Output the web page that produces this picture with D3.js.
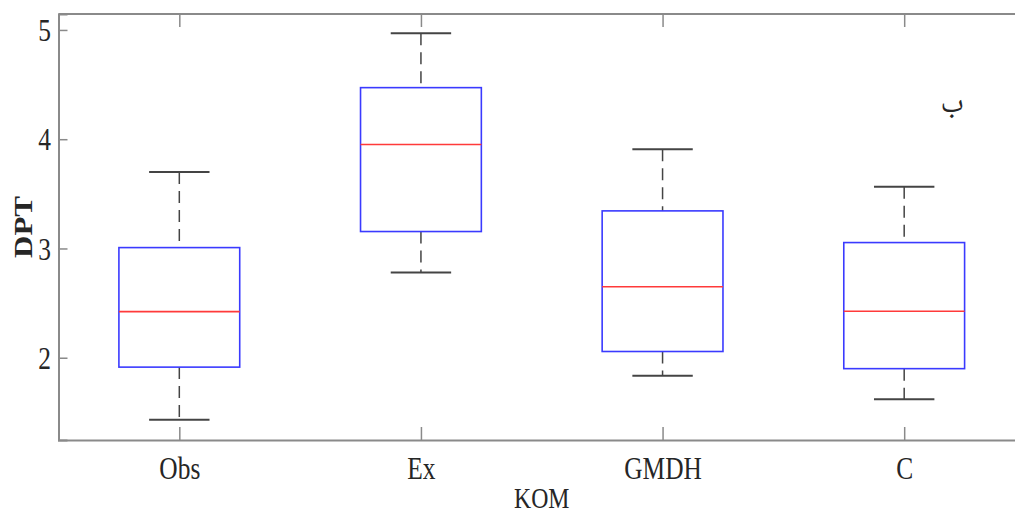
<!DOCTYPE html>
<html>
<head>
<meta charset="utf-8">
<script src="https://cdn.jsdelivr.net/npm/d3@7"></script>
<style>
  html, body { margin: 0; padding: 0; background: #fff; }
  svg { display: block; }
  text { font-family: "Liberation Serif", "Times New Roman", serif; fill: #262626; }
</style>
</head>
<body>
<svg id="chart" width="1015" height="515"></svg>
<script>
// ---- data ----
const categories = ["Obs", "Ex", "GMDH", "C"];
const whiskerLow  = [1.432, 2.780, 1.834, 1.621];
const q1          = [1.914, 3.155, 2.057, 1.900];
const median      = [2.422, 3.951, 2.649, 2.426];
const q3          = [3.008, 4.472, 3.344, 3.054];
const whiskerHigh = [3.700, 4.970, 3.908, 3.566];
const yTicks = [2, 3, 4, 5];
const xTitle = "KOM";
const yTitle = "DPT";
const panelTag = "ب";

(function () {
// ---- layout ----
const svg = d3.select("#chart");
const mLeft = 58.5, mRight = 1025, mTop = 14, mBottom = 440;
const sx = 0.82; // horizontal condensation of text
const x = d3.scaleLinear().domain([0.5, categories.length + 0.5]).range([mLeft, mRight]);
const y = d3.scaleLinear().domain([1.247, 5.146]).range([mBottom, mTop]);

const axisColor = "#8a8a8a";

// top frame line
svg.append("line").attr("x1", mLeft).attr("x2", mRight).attr("y1", mTop).attr("y2", mTop)
  .attr("stroke", axisColor).attr("stroke-width", 2);

// left axis
const gy = svg.append("g").attr("transform", `translate(${mLeft},0)`)
  .call(d3.axisLeft(y).tickValues(yTicks).tickSize(-9).tickPadding(0).tickFormat(d3.format("d")));
gy.select(".domain").attr("stroke", axisColor).attr("stroke-width", 2);
gy.selectAll(".tick line").attr("stroke", axisColor).attr("stroke-width", 1.5);
gy.selectAll(".tick text")
  .attr("x", -7.5 / sx).attr("dy", "0.34em")
  .attr("transform", `scale(${sx},1)`)
  .style("font-size", "31px").attr("fill", "#262626")
  .style("font-family", "'Liberation Serif', serif");

// bottom axis
const gx = svg.append("g").attr("transform", `translate(0,${mBottom})`)
  .call(d3.axisBottom(x).tickValues(categories.map((d, i) => i + 1))
    .tickSize(-13).tickFormat((d, i) => categories[i]));
gx.select(".domain").attr("stroke", axisColor).attr("stroke-width", 2);
gx.selectAll(".tick line").attr("stroke", axisColor).attr("stroke-width", 1.5);
gx.selectAll(".tick text")
  .attr("y", 39).attr("dy", "0").attr("x", 0)
  .attr("transform", `scale(${sx},1)`)
  .style("font-size", "31px").attr("fill", "#262626")
  .style("font-family", "'Liberation Serif', serif");

// top axis ticks (inward)
const gt = svg.append("g").attr("transform", `translate(0,${mTop})`)
  .call(d3.axisTop(x).tickValues(categories.map((d, i) => i + 1)).tickSize(-13).tickFormat(""));
gt.select(".domain").remove();
gt.selectAll(".tick line").attr("stroke", axisColor).attr("stroke-width", 1.5);

// boxes
const idx = d3.range(categories.length);
const boxHalf = 0.25, capHalf = 0.125;
const g = svg.append("g");

g.selectAll(".wU").data(idx).join("line")
  .attr("x1", i => x(i + 1)).attr("x2", i => x(i + 1))
  .attr("y1", i => y(whiskerHigh[i])).attr("y2", i => y(q3[i]))
  .attr("stroke", "#444").attr("stroke-width", 1.5).attr("stroke-dasharray", "12,7");
g.selectAll(".wL").data(idx).join("line")
  .attr("x1", i => x(i + 1)).attr("x2", i => x(i + 1))
  .attr("y1", i => y(q1[i])).attr("y2", i => y(whiskerLow[i]))
  .attr("stroke", "#444").attr("stroke-width", 1.5).attr("stroke-dasharray", "12,7");
g.selectAll(".cU").data(idx).join("line")
  .attr("x1", i => x(i + 1 - capHalf)).attr("x2", i => x(i + 1 + capHalf))
  .attr("y1", i => y(whiskerHigh[i])).attr("y2", i => y(whiskerHigh[i]))
  .attr("stroke", "#444").attr("stroke-width", 2);
g.selectAll(".cL").data(idx).join("line")
  .attr("x1", i => x(i + 1 - capHalf)).attr("x2", i => x(i + 1 + capHalf))
  .attr("y1", i => y(whiskerLow[i])).attr("y2", i => y(whiskerLow[i]))
  .attr("stroke", "#444").attr("stroke-width", 2);
g.selectAll(".box").data(idx).join("rect")
  .attr("x", i => x(i + 1 - boxHalf)).attr("width", i => x(i + 1 + boxHalf) - x(i + 1 - boxHalf))
  .attr("y", i => y(q3[i])).attr("height", i => y(q1[i]) - y(q3[i]))
  .attr("fill", "none").attr("stroke", "#3a3aff").attr("stroke-width", 1.6);
g.selectAll(".med").data(idx).join("line")
  .attr("x1", i => x(i + 1 - boxHalf)).attr("x2", i => x(i + 1 + boxHalf))
  .attr("y1", i => y(median[i])).attr("y2", i => y(median[i]))
  .attr("stroke", "#ff3a3a").attr("stroke-width", 1.6);

// axis titles
svg.append("text")
  .attr("transform", `translate(${(mLeft + mRight) / 2},508) scale(${sx},1)`)
  .attr("text-anchor", "middle").style("font-size", "29px").text(xTitle);
svg.append("text")
  .attr("transform", `translate(32,${(mTop + mBottom) / 2}) scale(${sx},1) rotate(-90)`)
  .attr("text-anchor", "middle").style("font-size", "31px").style("font-weight", "bold").text(yTitle);

// panel tag
svg.append("text")
  .attr("transform", `translate(952,112)`)
  .attr("text-anchor", "middle").style("font-size", "30px")
  .style("font-family", "'Noto Naskh Arabic', 'Noto Sans Arabic', 'Noto Sans', 'DejaVu Sans', sans-serif").text(panelTag);
})();
</script>
</body>
</html>
